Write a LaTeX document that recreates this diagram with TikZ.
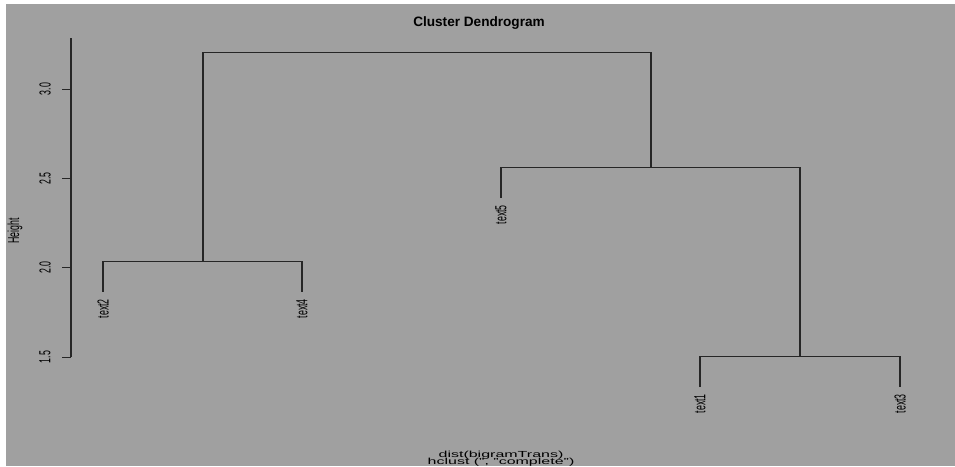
\documentclass[tikz,border=0pt]{standalone}
\usepackage{fontspec}
\setmainfont{Liberation Sans}
\usepackage{graphicx}

\definecolor{plotgray}{RGB}{160,160,160}
\newcommand{\squashv}[1]{\scalebox{0.55}[1]{#1}}
\newcommand{\squashh}[1]{\scalebox{1}[0.55]{#1}}

\tikzset{
	link/.style = {line width = 1.1pt, black!85},
	leaf/.style = {rotate = 90, anchor = east, inner sep = 0pt, font = \fontsize{16}{16}\selectfont},
	ticklab/.style = {rotate = 90, inner sep = 0pt, font = \fontsize{16}{16}\selectfont},
	caption/.style = {inner sep = 0pt, anchor = base, font = \fontsize{16}{16}\selectfont}
}

\begin{document}
\begin{tikzpicture}[x = 1pt, y = 1pt]

	% Frame
	\useasboundingbox (0, 0) rectangle (955, 466);
	\fill [white] (0, 0) rectangle (955, 466);
	\fill [plotgray] (6, 0) rectangle (955, 462);

	\node [font = \bfseries\fontsize{13.6}{14}\selectfont, inner sep = 0pt, anchor = base] (title) at (479, 439) {Cluster Dendrogram};
	\node [ticklab] (ylab) at (15, 235) {\squashv{Height}};
	\node [caption] (sub1) at (501, 9) {\squashh{dist(bigramTrans)}};
	\node [caption] (sub2) at (501, 2) {\squashh{hclust (", "complete")}};

	\begin{scope}[y = 178.7pt, yshift = -159.05pt]

		% Axis
		\draw [line width = 1.1pt, black!85] (71, 1.5) -- (71, 3.285);
		\foreach \h [count = \i] in {1.5, 2.0, 2.5, 3.0} {
			\draw [line width = 0.8pt, black!85] (71, \h) -- (62, \h);
			\node [ticklab] (tick\i) at (45, \h) {\squashv{\h}};
		}

		% Merges
		\coordinate (m13) at (800, 1.505);
		\coordinate (m24) at (203, 2.033);
		\coordinate (m513) at (651, 2.558);
		\coordinate (top) at (427, 3.203);

		% Leaf ends
		\coordinate (e2) at (103, 1.864);
		\coordinate (e4) at (302, 1.864);
		\coordinate (e5) at (501, 2.390);
		\coordinate (e1) at (700, 1.332);
		\coordinate (e3) at (900, 1.332);

		\foreach \k in {1, ..., 5} {
			\node [leaf] (t\k) at ([yshift = -7pt] e\k) {\squashv{text\k}};
		}

		\begin{scope}[link]
			\draw (e1) |- (m13) -| (e3);
			\draw (e2) |- (m24) -| (e4);
			\draw (e5) |- (m513) -| (m13);
			\draw (m24) |- (top) -| (m513);
		\end{scope}

	\end{scope}

\end{tikzpicture}
\end{document}
